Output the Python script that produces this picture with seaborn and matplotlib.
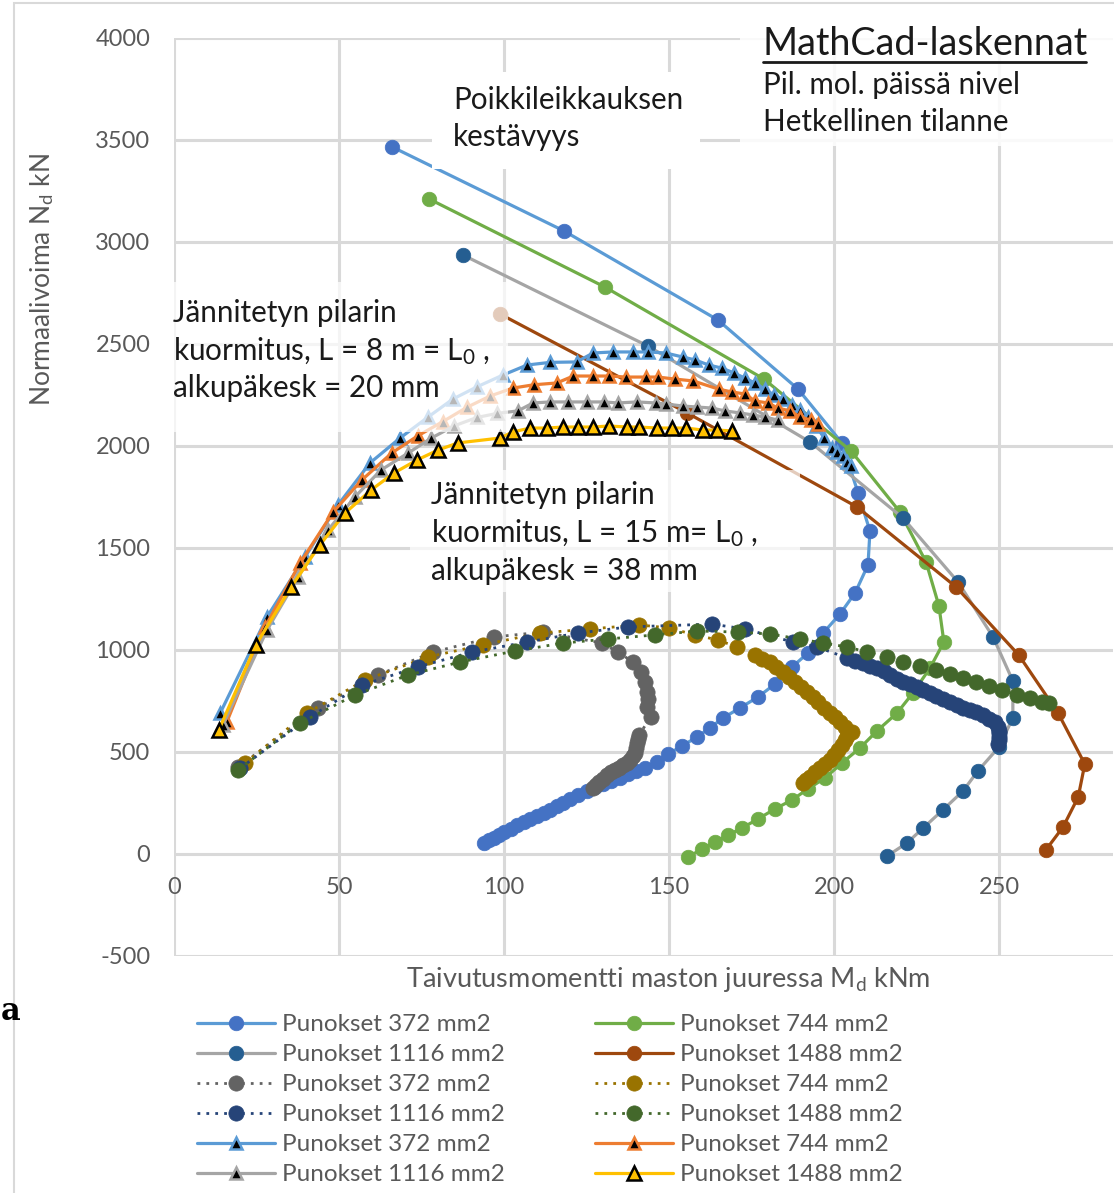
import matplotlib
matplotlib.use("Agg")
import matplotlib.pyplot as plt
import seaborn as sns
import pandas as pd
from matplotlib.patches import Rectangle
from matplotlib.lines import Line2D

W, H = 1114, 1193

# ---------------- data (kNm, kN) ----------------
# Solid: cross-section resistance + momentary state
s372_x = [66.1, 118.2, 164.8, 189.1, 202.4, 207.3, 210.9, 210.3, 206.4, 201.8, 196.7, 192.1, 187.3, 182.1, 177.0,
          171.5, 166.4, 162.4, 158.5, 153.9, 149.7, 146.4, 142.7, 140.0, 137.5, 135.0, 132.5, 130.0, 127.5, 125.0,
          122.5, 120.0, 118.0, 116.0, 114.0, 112.0, 110.0, 108.0, 106.0, 104.0, 102.0, 100.0, 98.5, 97.0, 95.5, 94.0]
s372_y = [3466, 3054, 2618, 2279, 2015, 1770, 1583, 1417, 1280, 1176, 1083, 985, 917, 833, 770,
          716, 667, 618, 574, 529, 490, 451, 422, 405, 390, 375, 360, 344, 327, 308,
          290, 268, 252, 236, 218, 200, 186, 170, 155, 140, 122, 107, 94, 80, 67, 54]

s744_x = [77.3, 130.6, 178.8, 205.2, 220.0, 227.9, 231.8, 233.3, 229.1, 223.9, 219.1, 213.0, 207.9, 202.4,
          197.3, 192.1, 187.3, 182.1, 177.0, 172.1, 167.9, 163.9, 160.0, 155.8]
s744_y = [3211, 2779, 2328, 1975, 1676, 1431, 1216, 1039, 912, 789, 691, 603, 520, 446,
          373, 319, 265, 221, 172, 127, 93, 59, 25, -15]

s1116_x = [87.6, 143.6, 192.7, 220.9, 237.6, 248.2, 254.2, 254.2, 250.0, 243.6, 239.1, 233.0, 227.0, 222.1, 216.1]
s1116_y = [2936, 2490, 2020, 1647, 1333, 1064, 848, 667, 525, 407, 309, 216, 127, 54, -10]

s1488_x = [98.8, 155.5, 207.0, 237.0, 256.0, 267.9, 276.0, 274.0, 269.4, 264.2]
s1488_y = [2647, 2162, 1701, 1309, 975, 691, 441, 279, 132, 20]

# Dotted: L = 15 m, e0 = 38 mm
d372_x = [19.4, 43.6, 61.8, 78.5, 97.0, 111.8, 129.7, 134.5, 139.1, 141.5, 142.7, 143.3, 143.5, 143.3, 144.5,
          140.9, 140.6, 140.3, 140.0, 139.7, 139.0, 138.2, 137.2, 136.1, 134.9, 133.6, 132.4, 131.2, 130.0,
          128.8, 127.9, 127.0]
d372_y = [426, 716, 877, 990, 1064, 1088, 1034, 990, 941, 892, 843, 794, 760, 720, 672,
          583, 563, 544, 520, 495, 478, 461, 448, 436, 424, 412, 400, 387, 370,
          353, 338, 324]

d744_x = [21.5, 40.3, 57.9, 77.0, 93.6, 110.9, 126.0, 141.0, 150.0, 157.9, 164.8, 170.6, 176.0, 178.3, 180.6,
          182.5, 184.5, 186.3, 188.2, 190.0, 191.8, 193.5, 195.2, 197.0, 198.8, 200.3, 201.8, 203.3, 205.5,
          204.0, 203.3, 202.3, 201.2, 200.0, 198.8, 197.3, 195.8, 194.2, 192.7, 191.6, 190.6]
d744_y = [446, 691, 853, 966, 1025, 1083, 1103, 1123, 1108, 1074, 1049, 1015, 975, 958, 941,
          916, 892, 868, 843, 818, 794, 770, 745, 718, 691, 670, 647, 622, 598,
          580, 559, 535, 510, 485, 461, 441, 422, 400, 377, 362, 348]

d1116_x = [20.0, 41.2, 57.0, 73.9, 90.3, 107.0, 122.4, 137.6, 163.0, 173.0, 187.6, 194.8, 204.0, 206.5, 208.8,
           211.0, 213.0, 215.0, 217.0, 219.0, 220.9, 223.0, 225.2, 227.0, 229.1, 231.0, 233.0, 235.0, 237.3,
           239.0, 241.2, 243.0, 245.2, 247.0, 248.8, 249.7, 250.0, 250.0, 250.0, 250.0, 249.7]
d1116_y = [420, 672, 828, 917, 990, 1039, 1083, 1113, 1127, 1103, 1039, 1015, 961, 948, 936,
           924, 912, 895, 877, 860, 843, 831, 819, 804, 789, 775, 760, 745, 730,
           718, 706, 694, 681, 664, 647, 623, 605, 593, 575, 559, 539]

d1488_x = [19.4, 38.2, 54.8, 70.9, 86.7, 103.3, 117.9, 131.5, 145.8, 158.5, 171.0, 180.6, 189.7, 196.7, 204.0,
           210.0, 216.0, 221.0, 226.0, 231.0, 235.0, 239.0, 243.0, 247.0, 251.0, 255.5, 259.4, 263.0, 265.0]
d1488_y = [412, 642, 779, 877, 941, 995, 1034, 1054, 1074, 1093, 1088, 1078, 1054, 1034, 1015,
           990, 966, 941, 922, 902, 882, 863, 843, 824, 804, 779, 765, 745, 740]

# Triangles: L = 8 m, e0 = 20 mm
t372_x = [14.0, 28.2, 39.7, 49.7, 59.4, 68.5, 77.0, 84.5, 91.8, 99.7, 107.0, 114.0, 122.0, 127.0, 133.0, 139.0,
          143.6, 149.0, 154.2, 157.9, 162.0, 166.0, 169.7, 173.0, 176.0, 179.0, 181.8, 184.5, 187.3, 189.7,
          192.0, 194.5, 197.0, 199.4, 201.0, 202.7, 204.0, 205.0]
t372_y = [691, 1162, 1456, 1711, 1917, 2039, 2142, 2230, 2290, 2348, 2397, 2410, 2412, 2456, 2461, 2461,
          2461, 2456, 2436, 2422, 2397, 2382, 2358, 2333, 2309, 2279, 2250, 2230, 2201, 2176,
          2140, 2100, 2040, 1990, 1971, 1951, 1922, 1902]

t744_x = [16.0, 27.6, 38.2, 48.2, 56.9, 66.0, 73.9, 81.5, 88.8, 95.8, 102.7, 109.0, 116.0, 121.0, 127.0, 131.8,
          137.0, 143.0, 146.7, 151.8, 157.3, 165.0, 169.0, 173.0, 176.0, 180.0, 183.0, 186.7, 189.7, 193.0, 195.0]
t744_y = [647, 1113, 1426, 1676, 1833, 1966, 2050, 2120, 2190, 2245, 2284, 2300, 2309, 2343, 2343, 2343,
          2338, 2338, 2338, 2328, 2319, 2279, 2265, 2255, 2221, 2211, 2186, 2172, 2142, 2127, 2108]

t1116_x = [14.8, 28.2, 37.6, 46.7, 54.8, 62.7, 71.0, 78.0, 84.8, 91.8, 98.0, 104.2, 108.8, 114.0, 119.5, 125.2,
           130.3, 134.5, 140.3, 146.0, 149.0, 154.2, 158.5, 163.0, 167.0, 171.5, 175.5, 179.0, 183.0]
t1116_y = [632, 1098, 1358, 1588, 1750, 1882, 1966, 2039, 2098, 2140, 2160, 2172, 2211, 2216, 2216, 2216,
           2216, 2211, 2216, 2211, 2206, 2196, 2191, 2186, 2172, 2162, 2152, 2142, 2127]

t1488_x = [13.6, 24.8, 35.5, 44.2, 51.8, 59.7, 66.7, 73.6, 80.0, 86.0, 98.8, 102.7, 107.9, 113.0, 117.9, 122.4,
           127.0, 131.8, 137.3, 140.9, 146.4, 150.9, 155.2, 160.3, 164.5, 169.0]
t1488_y = [608, 1024, 1309, 1515, 1671, 1784, 1868, 1931, 1980, 2015, 2039, 2069, 2088, 2088, 2093, 2093,
           2093, 2098, 2093, 2093, 2088, 2088, 2088, 2078, 2078, 2074]

label_372 = "Punokset 372 mm2"
label_744 = "Punokset 744 mm2"
label_1116 = "Punokset 1116 mm2"
label_1488 = "Punokset 1488 mm2"

x_ticks = [0, 50, 100, 150, 200, 250]
y_ticks = [-500, 0, 500, 1000, 1500, 2000, 2500, 3000, 3500, 4000]

# ---------------- style ----------------
sns.set_theme(style="white")
plt.rcParams['font.family'] = ['Lato', 'DejaVu Sans']
plt.rcParams['mathtext.fontset'] = 'custom'
plt.rcParams['mathtext.rm'] = 'Lato'
plt.rcParams['mathtext.it'] = 'Lato:italic'
TXT = '#595959'

fig = plt.figure(figsize=(W / 100, H / 100), dpi=100)
fig.patch.set_facecolor('white')
ax = fig.add_axes([174 / W, 1 - 956 / H, (1113 - 174) / W, (956 - 38) / H])
ax.set_facecolor('white')

DOT = (0, (1, 2.2))
series = [
    (label_372, s372_x, s372_y, dict(color='#5B9BD5', linestyle='-', linewidth=2.3, marker='o', markersize=10.5,
                                     markerfacecolor='#4472C4', markeredgecolor='#4472C4', markeredgewidth=0.5)),
    (label_744, s744_x, s744_y, dict(color='#70AD47', linestyle='-', linewidth=2.3, marker='o', markersize=10.5,
                                     markerfacecolor='#70AD47', markeredgecolor='#70AD47', markeredgewidth=0.5)),
    (label_1116, s1116_x, s1116_y, dict(color='#A5A5A5', linestyle='-', linewidth=2.3, marker='o', markersize=10.5,
                                        markerfacecolor='#255E91', markeredgecolor='#255E91', markeredgewidth=0.5)),
    (label_1488, s1488_x, s1488_y, dict(color='#9E480E', linestyle='-', linewidth=2.3, marker='o', markersize=10.5,
                                        markerfacecolor='#9E480E', markeredgecolor='#9E480E', markeredgewidth=0.5)),
    (label_372, d372_x, d372_y, dict(color='#636363', linestyle=DOT, linewidth=2.0, marker='o', markersize=11,
                                     markerfacecolor='#636363', markeredgecolor='#636363', markeredgewidth=0.5)),
    (label_744, d744_x, d744_y, dict(color='#997300', linestyle=DOT, linewidth=2.0, marker='o', markersize=11,
                                     markerfacecolor='#997300', markeredgecolor='#997300', markeredgewidth=0.5)),
    (label_1116, d1116_x, d1116_y, dict(color='#264478', linestyle=DOT, linewidth=2.0, marker='o', markersize=11,
                                        markerfacecolor='#264478', markeredgecolor='#264478', markeredgewidth=0.5)),
    (label_1488, d1488_x, d1488_y, dict(color='#43682B', linestyle=DOT, linewidth=2.0, marker='o', markersize=11,
                                        markerfacecolor='#43682B', markeredgecolor='#43682B', markeredgewidth=0.5)),
    (label_372, t372_x, t372_y, dict(color='#5B9BD5', linestyle='-', linewidth=2.3, marker='^', markersize=9,
                                     markerfacecolor='black', markeredgecolor='#5B9BD5', markeredgewidth=1.8)),
    (label_744, t744_x, t744_y, dict(color='#ED7D31', linestyle='-', linewidth=2.3, marker='^', markersize=9,
                                     markerfacecolor='black', markeredgecolor='#ED7D31', markeredgewidth=1.8)),
    (label_1116, t1116_x, t1116_y, dict(color='#A5A5A5', linestyle='-', linewidth=2.3, marker='^', markersize=9,
                                        markerfacecolor='black', markeredgecolor='#A5A5A5', markeredgewidth=1.8)),
    (label_1488, t1488_x, t1488_y, dict(color='#FFC000', linestyle='-', linewidth=2.3, marker='^', markersize=10,
                                        markerfacecolor='#FFC000', markeredgecolor='black', markeredgewidth=1.8)),
]

handles = []
for lab, xs, ys, kw in series:
    df = pd.DataFrame({'x': xs, 'y': ys})
    sns.lineplot(data=df, x='x', y='y', sort=False, estimator=None, ax=ax, **kw)
    handles.append((ax.lines[-1], lab))

ax.set_xlim(0, (1113 - 174) / 3.3)
ax.set_ylim(-500, 4000)
ax.set_xticks(x_ticks)
ax.set_yticks(y_ticks)
ax.set_xticklabels([])
ax.set_yticklabels([str(v) for v in y_ticks])
ax.grid(True, color='#D9D9D9', linewidth=2.2)
ax.set_axisbelow(True)
for sp in ax.spines.values():
    sp.set_visible(False)
ax.tick_params(axis='both', length=0)
ax.tick_params(axis='y', pad=17, labelsize=17, labelcolor=TXT)
ax.set_xlabel('')
ax.set_ylabel('')

for v in x_ticks:
    ax.annotate(str(v), xy=(v, 0), xytext=(0, -24), textcoords='offset points',
                ha='center', va='center', fontsize=17, color=TXT, annotation_clip=False)

fig.text(42 / W, 1 - 280 / H, 'Normaalivoima N$_{\\mathrm{d}}$ kN', rotation=90,
         ha='center', va='center', fontsize=19, color=TXT)
fig.text(668 / W, 1 - 980 / H, 'Taivutusmomentti maston juuressa M$_{\\mathrm{d}}$ kNm',
         ha='center', va='center', fontsize=19.5, color=TXT)


def box(x0, y0, x1, y1, alpha):
    r = Rectangle((x0 / W, 1 - y1 / H), (x1 - x0) / W, (y1 - y0) / H, transform=fig.transFigure,
                  facecolor='white', edgecolor='none', alpha=alpha, zorder=10, clip_on=False)
    ax.add_patch(r)


box(432, 72, 700, 169, 1.0)
box(170, 282, 508, 432, 0.72)
box(410, 470, 800, 592, 0.72)
box(740, 6, 1114, 146, 0.85)


def ftext(px, py, s, size=21.3, color='#1a1a1a'):
    fig.text(px / W, 1 - py / H, s, ha='left', va='center', fontsize=size, color=color)


ftext(453, 100, 'Poikkileikkauksen')
ftext(453, 137, 'kestävyys')
ftext(173, 313, 'Jännitetyn pilarin')
ftext(173, 351, 'kuormitus, L = 8 m = L$_{\\mathrm{0}}$ ,')
ftext(173, 388, 'alkupäkesk = 20 mm')
ftext(431, 495, 'Jännitetyn pilarin')
ftext(431, 533, 'kuormitus, L = 15 m= L$_{\\mathrm{0}}$ ,')
ftext(431, 571, 'alkupäkesk = 38 mm')
ftext(763, 44, 'MathCad-laskennat', size=27.2)
fig.add_artist(Line2D([763 / W, 1086 / W], [1 - 62 / H, 1 - 62 / H], transform=fig.transFigure,
                      color='#1a1a1a', linewidth=2))
ftext(763, 85, 'Pil. mol. päissä nivel')
ftext(763, 122, 'Hetkellinen tilanne')

# stray letter at the left edge
fig.text(1 / W, 1 - 1012 / H, 'a', ha='left', va='center', fontsize=22, fontweight='bold',
         family='DejaVu Serif', color='black')

# outer chart border
fig.add_artist(Rectangle((14 / W, -0.01), 1.2, 1 - 3 / H + 0.01, transform=fig.transFigure,
                         fill=False, edgecolor='#D9D9D9', linewidth=1.5))

# legend: column-major order
order = [0, 2, 4, 6, 8, 10, 1, 3, 5, 7, 9, 11]
leg = fig.legend([handles[i][0] for i in order], [handles[i][1] for i in order], ncol=2,
                 loc='upper left', bbox_to_anchor=(197 / W, 1 - 1014 / H), frameon=False,
                 fontsize=17.5, handlelength=3.2, handletextpad=0.3, columnspacing=3.7,
                 labelspacing=0.37, borderpad=0, borderaxespad=0, numpoints=1)
for t in leg.get_texts():
    t.set_color(TXT)

fig.savefig('out.png', dpi=100)
